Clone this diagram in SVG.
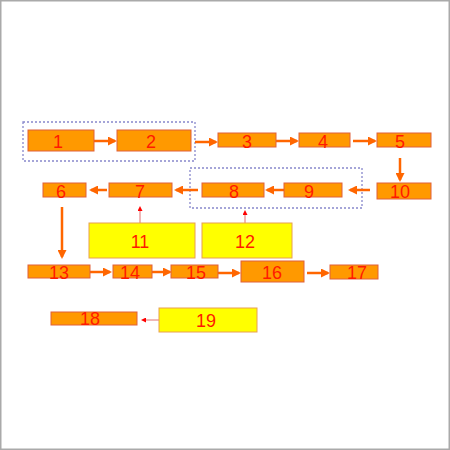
<svg xmlns="http://www.w3.org/2000/svg" width="450" height="450" viewBox="0 0 450 450">
<defs>
<style>
.o{fill:#FF9900;stroke:#E0603A;stroke-width:1}
.y{fill:#FFFF00;stroke:#E8A050;stroke-width:1}
.t{font-family:"Liberation Sans",Arial,sans-serif;font-size:18px;fill:#FF1A00;text-anchor:middle}
.a{stroke:#FF6600;stroke-width:2.5;fill:none;marker-end:url(#ah)}
.th{stroke:#E07070;stroke-width:1;fill:none;marker-end:url(#sh)}
.d{fill:none;stroke:#8888CC;stroke-width:1.3;stroke-dasharray:2 2}
</style>
<marker id="ah" markerUnits="userSpaceOnUse" markerWidth="9" markerHeight="9" refX="7" refY="4.5" orient="auto">
<path d="M0,0 L9,4.5 L0,9 z" fill="#FF6600"/>
</marker>
<marker id="sh" markerUnits="userSpaceOnUse" markerWidth="5" markerHeight="5" refX="3" refY="2.5" orient="auto">
<path d="M0,0 L5,2.5 L0,5 z" fill="#FF0000"/>
</marker>
</defs>
<rect x="0" y="0" width="450" height="450" fill="#FFFFFF"/>
<rect x="0.75" y="0.75" width="448.5" height="448.5" fill="none" stroke="#AAAAAA" stroke-width="1.5"/>
<g id="groups">
<rect class="d" x="23" y="122" width="172" height="39"/>
<rect class="d" x="190" y="168" width="172" height="40"/>
</g>
<g id="connectors">
<line class="a" x1="94" y1="141" x2="115" y2="141"/>
<line class="a" x1="195" y1="142" x2="216" y2="142"/>
<line class="a" x1="276" y1="141" x2="297" y2="141"/>
<line class="a" x1="353" y1="141" x2="375" y2="141"/>
<line class="a" x1="400" y1="158" x2="400" y2="180"/>
<line class="a" x1="370" y1="190" x2="350" y2="190"/>
<line class="a" x1="284" y1="190" x2="267" y2="190"/>
<line class="a" x1="198" y1="190" x2="176" y2="190"/>
<line class="a" x1="107" y1="190" x2="91" y2="190"/>
<line class="a" x1="62" y1="207" x2="62" y2="257"/>
<line class="a" x1="90" y1="272" x2="110" y2="272"/>
<line class="a" x1="152" y1="272" x2="170" y2="272"/>
<line class="a" x1="218" y1="273" x2="239" y2="273"/>
<line class="a" x1="307" y1="273" x2="328" y2="273"/>
<line class="th" x1="140" y1="223" x2="140" y2="208"/>
<line class="th" x1="245" y1="223" x2="245" y2="212"/>
<line class="th" x1="159" y1="320" x2="143" y2="320"/>
</g>
<g id="n1"><rect class="o" x="28" y="130" width="66" height="21"/><text class="t" x="58" y="147.5">1</text></g>
<g id="n2"><rect class="o" x="117" y="130" width="74" height="21"/><text class="t" x="151" y="147.5">2</text></g>
<g id="n3"><rect class="o" x="218" y="133" width="58" height="14"/><text class="t" x="247" y="147.5">3</text></g>
<g id="n4"><rect class="o" x="299" y="133" width="51" height="14"/><text class="t" x="323" y="147.5">4</text></g>
<g id="n5"><rect class="o" x="377" y="133" width="54" height="14"/><text class="t" x="400" y="147.5">5</text></g>
<g id="n6"><rect class="o" x="43" y="183" width="43" height="14"/><text class="t" x="61" y="197.5">6</text></g>
<g id="n7"><rect class="o" x="109" y="183" width="63" height="14"/><text class="t" x="140" y="197.5">7</text></g>
<g id="n8"><rect class="o" x="202" y="183" width="62" height="14"/><text class="t" x="234" y="197.5">8</text></g>
<g id="n9"><rect class="o" x="284" y="183" width="58" height="14"/><text class="t" x="309" y="197.5">9</text></g>
<g id="n10"><rect class="o" x="377" y="183" width="54" height="16"/><text class="t" x="400" y="198">10</text></g>
<g id="n11"><rect class="y" x="89" y="223" width="106" height="35"/><text class="t" x="140" y="248">11</text></g>
<g id="n12"><rect class="y" x="202" y="223" width="90" height="35"/><text class="t" x="245" y="248">12</text></g>
<g id="n13"><rect class="o" x="28" y="265" width="62" height="13"/><text class="t" x="59" y="279">13</text></g>
<g id="n14"><rect class="o" x="113" y="265" width="39" height="13"/><text class="t" x="130" y="279">14</text></g>
<g id="n15"><rect class="o" x="171" y="265" width="47" height="13"/><text class="t" x="196" y="279">15</text></g>
<g id="n16"><rect class="o" x="241" y="261" width="63" height="21"/><text class="t" x="272" y="279">16</text></g>
<g id="n17"><rect class="o" x="330" y="265" width="48" height="14"/><text class="t" x="357" y="279">17</text></g>
<g id="n18"><rect class="o" x="51" y="312" width="86" height="13"/><text class="t" x="90" y="325">18</text></g>
<g id="n19"><rect class="y" x="159" y="308" width="98" height="24"/><text class="t" x="206" y="327">19</text></g>
</svg>
